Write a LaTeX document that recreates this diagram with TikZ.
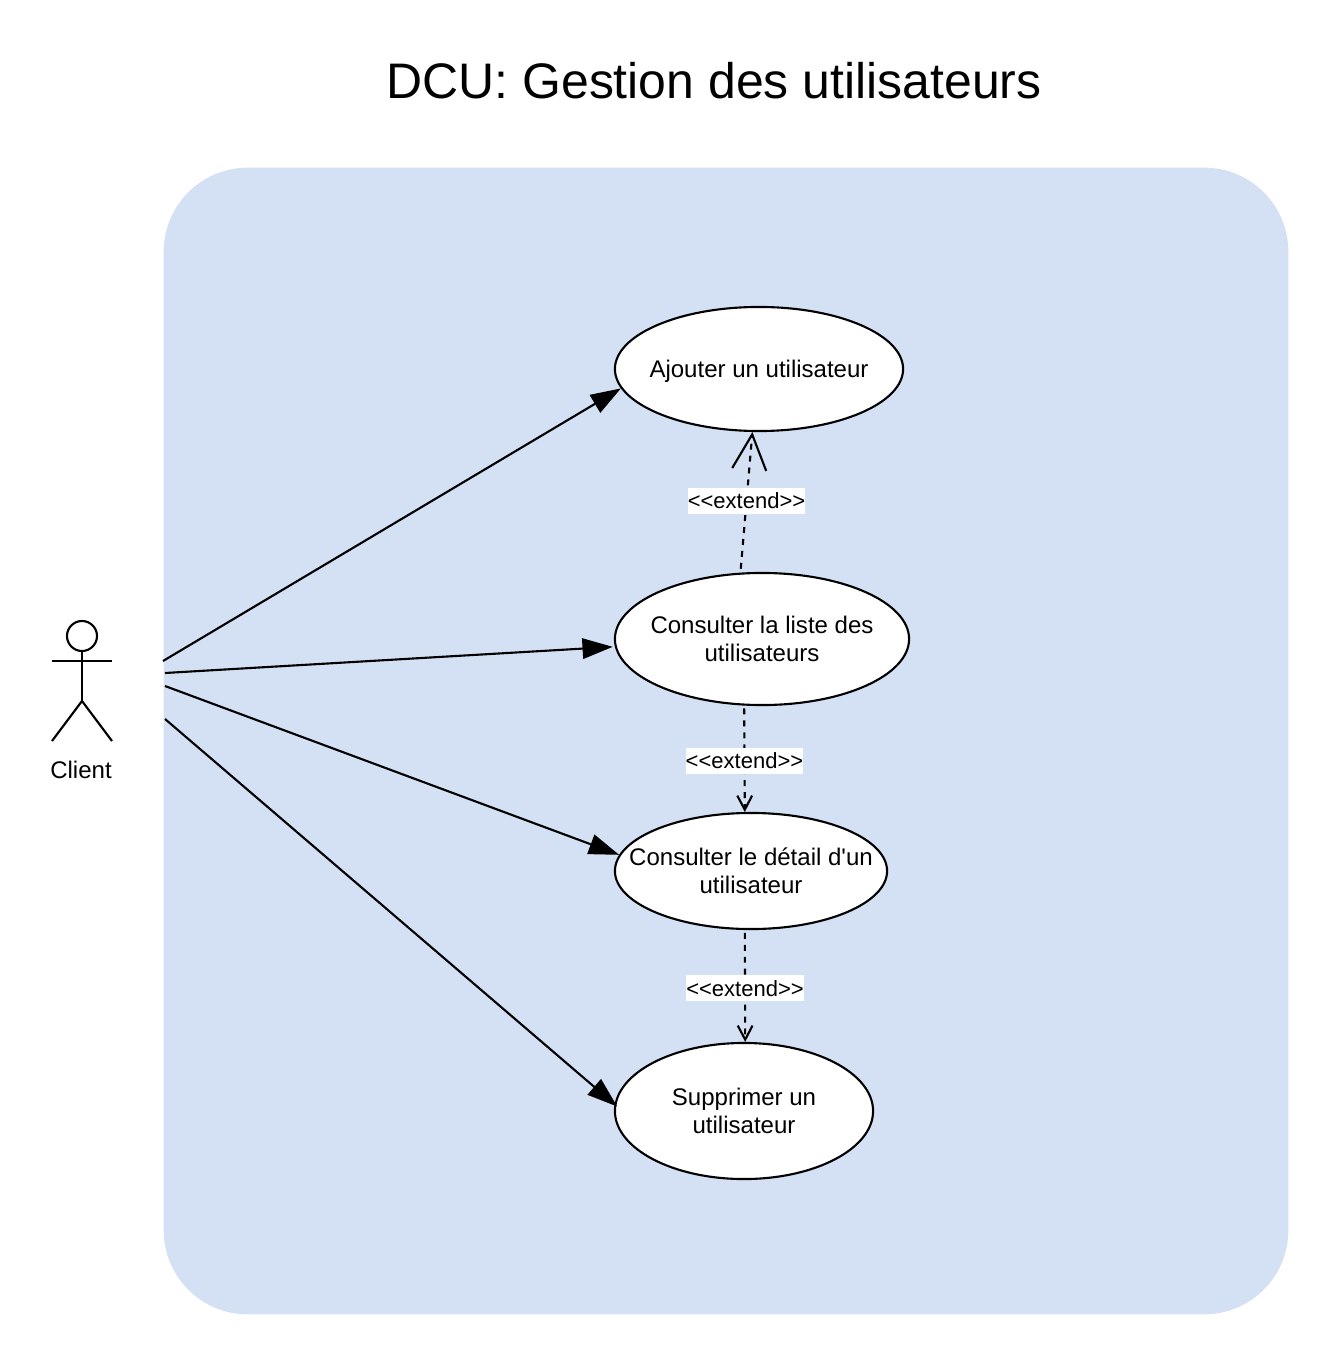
\documentclass[tikz,border=0pt]{standalone}
\usepackage{fontspec}
\setmainfont{Liberation Sans}[Ligatures=TeXOff]
\usetikzlibrary{arrows.meta,shapes.geometric}
\definecolor{systemblue}{HTML}{D4E1F5}

\begin{document}
\begin{tikzpicture}
[x=.01cm,y=-.01cm,line width=.6pt,
case/.style={ellipse,draw,fill=white,inner xsep=-.3cm,inner ysep=0pt,text depth=-1.2pt,align=center,font=\fontsize{6.83}{7.96}\selectfont},
extend/.style={fill=white,inner sep=0pt,minimum height=.26cm,font=\fontsize{6.26}{7}\selectfont},
usearrow/.style={-{Triangle[length=8.6pt,width=5.8pt]}},
bigbarb/.style={dashed,dash pattern=on 1.7pt off 1.7pt,shorten <=1.1pt,-{Straight Barb[length=10pt,width=9.7pt]}},
smallbarb/.style={dashed,dash pattern=on 1.7pt off 1.7pt,shorten <=.8pt,-{Straight Barb[length=4pt,width=4.2pt]}}]
\useasboundingbox (0,0) rectangle (1338,1364);
\node[font=\fontsize{14.2}{16}\selectfont] (title) at (714,81) {DCU: Gestion des utilisateurs};
\node[fill=systemblue,rounded corners=.84cm,inner sep=0pt,minimum width=11.24cm,minimum height=11.46cm] (system) at (726,741) {};
\node[case,text depth=0pt,minimum width=2.88cm,minimum height=1.24cm] (ajouter) at (759,369) {Ajouter un utilisateur};
\node[case,minimum width=2.94cm,minimum height=1.32cm] (liste) at (762,639) {Consulter la liste des\\utilisateurs};
\node[case,minimum width=2.72cm,minimum height=1.16cm] (detail) at (751,871) {Consulter le détail d'un\\utilisateur};
\node[case,minimum width=2.58cm,minimum height=1.36cm] (supprimer) at (744,1111) {Supprimer un\\utilisateur};
\node[circle,draw,inner sep=0pt,minimum size=.3cm] (head) at (82,636) {};
\coordinate (handl) at (52,661);
\coordinate (handr) at (112,661);
\coordinate (hip) at (82,701);
\coordinate (footl) at (52,741);
\coordinate (footr) at (112,741);
\node[font=\fontsize{6.83}{7.96}\selectfont] (client) at (81,770) {Client};
\coordinate (c1) at (163,661);
\coordinate (c2) at (165,673);
\coordinate (c3) at (165,686);
\coordinate (c4) at (165,719);
\foreach \from/\to in {head/hip,handl/handr,hip/footl,hip/footr}
\draw (\from) -- (\to);
\draw[usearrow] (c1) -- (ajouter.188.6);
\draw[usearrow,shorten >=.6pt] (c2) -- (liste.183);
\draw[usearrow] (c3) -- (detail.173.7);
\draw[usearrow,shorten >=-1pt] (c4) -- (supprimer.177.7);
\draw[bigbarb] (liste.108) -- node[extend,pos=.51] (e1) {<<extend>>} (ajouter.264.5);
\draw[smallbarb] (liste.255.6) -- node[extend,pos=.52] (e2) {<<extend>>} (detail.96);
\draw[smallbarb] (detail.264) -- node[extend,pos=.52] (e3) {<<extend>>} (supprimer.89);
\end{tikzpicture}
\end{document}
